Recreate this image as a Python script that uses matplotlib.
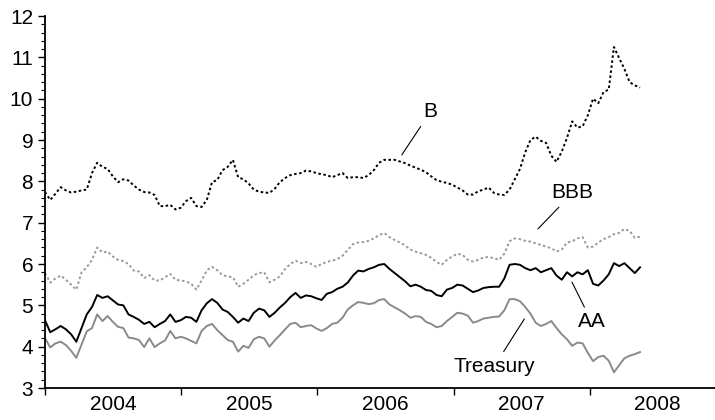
import matplotlib
matplotlib.use("Agg")
import matplotlib.pyplot as plt
import numpy as np

plt.rcParams['font.family'] = ['Liberation Sans', 'DejaVu Sans']

# yields (%), sampled every two weeks from the start of 2004
b_yield = [7.74, 7.55, 7.70, 7.86, 7.78, 7.73, 7.75, 7.78, 7.80, 8.20,
           8.45, 8.35, 8.30, 8.12, 7.98, 8.05, 8.02, 7.90, 7.80, 7.74,
           7.73, 7.67, 7.40, 7.40, 7.43, 7.32, 7.36, 7.52, 7.60, 7.40,
           7.38, 7.55, 7.98, 8.03, 8.27, 8.35, 8.52, 8.10, 8.05, 7.95,
           7.80, 7.75, 7.73, 7.72, 7.82, 7.98, 8.08, 8.15, 8.18, 8.20,
           8.26, 8.24, 8.20, 8.17, 8.15, 8.10, 8.15, 8.20, 8.08, 8.10,
           8.10, 8.08, 8.15, 8.27, 8.45, 8.52, 8.52, 8.52, 8.48, 8.44,
           8.38, 8.33, 8.28, 8.22, 8.12, 8.03, 7.99, 7.96, 7.92, 7.85,
           7.78, 7.68, 7.68, 7.76, 7.80, 7.85, 7.72, 7.68, 7.67, 7.80,
           8.05, 8.30, 8.70, 9.00, 9.08, 8.98, 8.93, 8.62, 8.47, 8.72,
           9.05, 9.45, 9.30, 9.33, 9.60, 10.00, 9.89, 10.16, 10.22, 11.25,
           10.98, 10.72, 10.40, 10.32, 10.27]

bbb_yield = [5.78, 5.55, 5.65, 5.72, 5.62, 5.50, 5.38, 5.80, 5.92, 6.10,
             6.40, 6.28, 6.30, 6.18, 6.10, 6.07, 6.00, 5.84, 5.82, 5.66,
             5.73, 5.60, 5.60, 5.68, 5.76, 5.62, 5.60, 5.58, 5.52, 5.38,
             5.60, 5.85, 5.93, 5.85, 5.73, 5.70, 5.68, 5.45, 5.52, 5.62,
             5.73, 5.78, 5.80, 5.56, 5.62, 5.70, 5.88, 6.00, 6.08, 6.02,
             6.05, 6.00, 5.93, 6.00, 6.05, 6.08, 6.12, 6.20, 6.34, 6.48,
             6.52, 6.53, 6.56, 6.62, 6.70, 6.75, 6.65, 6.58, 6.52, 6.45,
             6.35, 6.30, 6.26, 6.22, 6.15, 6.05, 5.98, 6.10, 6.18, 6.25,
             6.22, 6.10, 6.06, 6.10, 6.16, 6.17, 6.14, 6.10, 6.25, 6.55,
             6.62, 6.60, 6.56, 6.54, 6.50, 6.46, 6.42, 6.38, 6.30, 6.35,
             6.52, 6.55, 6.62, 6.65, 6.40, 6.42, 6.52, 6.60, 6.65, 6.72,
             6.75, 6.85, 6.80, 6.63, 6.66]

aa_yield = [4.64, 4.35, 4.42, 4.50, 4.42, 4.30, 4.12, 4.45, 4.78, 4.96,
            5.25, 5.18, 5.22, 5.12, 5.02, 5.00, 4.78, 4.72, 4.65, 4.55,
            4.60, 4.47, 4.55, 4.62, 4.78, 4.60, 4.64, 4.72, 4.70, 4.60,
            4.88, 5.05, 5.15, 5.06, 4.90, 4.84, 4.72, 4.58, 4.68, 4.62,
            4.82, 4.92, 4.88, 4.72, 4.82, 4.95, 5.06, 5.20, 5.30, 5.18,
            5.24, 5.22, 5.17, 5.13, 5.28, 5.32, 5.40, 5.45, 5.55, 5.72,
            5.84, 5.82, 5.88, 5.92, 5.98, 6.00, 5.88, 5.78, 5.68, 5.58,
            5.46, 5.50, 5.45, 5.37, 5.35, 5.25, 5.22, 5.38, 5.42, 5.50,
            5.48, 5.40, 5.32, 5.36, 5.42, 5.44, 5.45, 5.45, 5.65, 5.98,
            6.00, 5.98, 5.90, 5.85, 5.90, 5.80, 5.85, 5.90, 5.72, 5.62,
            5.80, 5.70, 5.80, 5.75, 5.85, 5.52, 5.48, 5.60, 5.75, 6.02,
            5.95, 6.02, 5.90, 5.78, 5.92]

treasury_yield = [4.21, 3.98, 4.08, 4.12, 4.04, 3.90, 3.73, 4.05, 4.37, 4.45,
                  4.78, 4.62, 4.74, 4.60, 4.48, 4.45, 4.22, 4.20, 4.16, 3.99,
                  4.20, 3.99, 4.08, 4.15, 4.38, 4.20, 4.24, 4.20, 4.14, 4.08,
                  4.38, 4.50, 4.55, 4.40, 4.28, 4.16, 4.12, 3.88, 4.02, 3.97,
                  4.18, 4.24, 4.20, 4.00, 4.15, 4.28, 4.42, 4.55, 4.58, 4.47,
                  4.50, 4.52, 4.44, 4.38, 4.45, 4.55, 4.58, 4.70, 4.90, 5.00,
                  5.08, 5.06, 5.03, 5.05, 5.13, 5.15, 5.02, 4.95, 4.88, 4.80,
                  4.70, 4.74, 4.72, 4.60, 4.55, 4.47, 4.50, 4.62, 4.72, 4.82,
                  4.80, 4.75, 4.58, 4.62, 4.68, 4.70, 4.72, 4.73, 4.88, 5.15,
                  5.15, 5.10, 4.96, 4.80, 4.58, 4.50, 4.55, 4.62, 4.45, 4.30,
                  4.18, 4.02, 4.10, 4.08, 3.85, 3.65, 3.75, 3.78, 3.66, 3.38,
                  3.55, 3.72, 3.78, 3.82, 3.87]

years = [2004, 2005, 2006, 2007, 2008]

# two-week steps expressed as fractional years
t = 2004 + np.arange(len(b_yield)) * 14 / 365.25

fig = plt.figure(figsize=(7.15, 4.2), dpi=100)
ax = fig.add_axes([45 / 715, 32 / 420, 670 / 715, 372 / 420])

ax.plot(t, treasury_yield, color="#8a8a8a", lw=1.4)
ax.plot(t, aa_yield, color="black", lw=1.4)
ax.plot(t, bbb_yield, color="#9a9a9a", lw=1.4, linestyle=(0, (1.3, 1.3)))
ax.plot(t, b_yield, color="black", lw=1.4, linestyle=(0, (1.3, 1.3)))

ax.set_xlim(2004, 2008.92)
ax.set_ylim(3, 12)

for s in ["top", "right"]:
    ax.spines[s].set_visible(False)
ax.spines["left"].set_linewidth(1.3)
ax.spines["bottom"].set_linewidth(1.3)

ax.set_yticks(range(3, 13))
ax.set_yticks(np.arange(3, 12.01, 0.2), minor=True)
ax.tick_params(axis="y", which="major", length=5, width=1, labelsize=15, direction="out")
ax.tick_params(axis="y", which="minor", length=3, width=0.8, direction="out")

ax.set_xticks(years)
ax.set_xticklabels([])
ax.set_xticks([y + 0.5 for y in years], minor=True)
ax.set_xticklabels([str(y) for y in years], minor=True)
ax.tick_params(axis="x", which="major", length=5, width=1, direction="out")
ax.tick_params(axis="x", which="minor", length=0, labelsize=15, pad=5)

line = dict(arrowstyle="-", color="black", lw=0.8, shrinkA=2, shrinkB=0)
ax.annotate("B", xy=(2006.62, 8.64), xytext=(2006.83, 9.68),
            ha="center", va="center", fontsize=15, arrowprops=line)
ax.annotate("BBB", xy=(2007.62, 6.85), xytext=(2007.875, 7.72),
            ha="center", va="center", fontsize=15, arrowprops=line)
ax.annotate("AA", xy=(2007.87, 5.56), xytext=(2008.015, 4.60),
            ha="center", va="center", fontsize=15, arrowprops=line)
ax.annotate("Treasury", xy=(2007.52, 4.67), xytext=(2007.30, 3.53),
            ha="center", va="center", fontsize=15, arrowprops=line)

fig.savefig("out.png", dpi=100)
